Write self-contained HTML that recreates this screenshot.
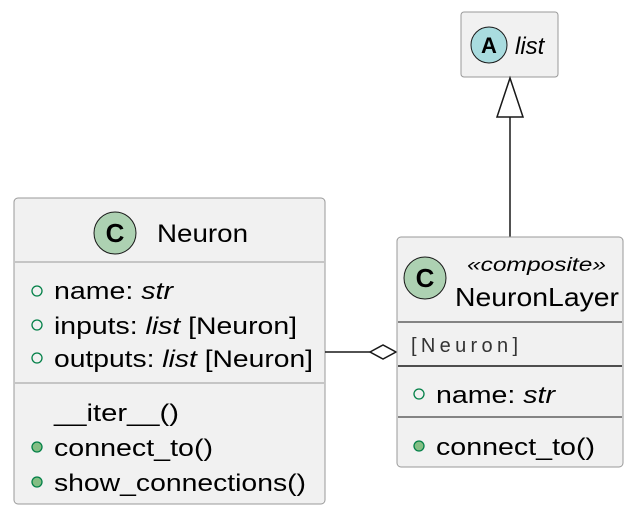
<!DOCTYPE html>
<html><head><style>body{margin:0;background:#fff}svg{display:block}text{font-family:"Liberation Sans",sans-serif;fill:#000}</style></head><body>
<svg width="638" height="518" viewBox="0 0 638 518" xmlns="http://www.w3.org/2000/svg">
<!-- list -->
<rect x="461" y="12" width="97" height="65" rx="3" fill="#F1F1F1" stroke="#999" stroke-width="1"/>
<circle cx="489" cy="45" r="18" fill="#A9DCDF" stroke="#181818" stroke-width="1"/>
<text x="489" y="53" font-size="22" font-weight="bold" text-anchor="middle" font-family="Liberation Mono, monospace">A</text>
<text x="515" y="54" font-size="24" font-style="italic">list</text>
<!-- inheritance -->
<line x1="510" y1="117" x2="510" y2="237" stroke="#181818" stroke-width="1.5"/>
<polygon points="510,78 497,117 523,117" fill="#fff" stroke="#181818" stroke-width="1.5"/>
<!-- Neuron -->
<rect x="14" y="198" width="311" height="306" rx="4" fill="#F1F1F1" stroke="#999" stroke-width="1"/>
<circle cx="115" cy="233" r="21" fill="#ADD1B2" stroke="#181818" stroke-width="1"/>
<text x="115" y="242" font-size="26" font-weight="bold" text-anchor="middle">C</text>
<text x="157" y="242" font-size="25" textLength="91" lengthAdjust="spacingAndGlyphs">Neuron</text>
<line x1="15" y1="262" x2="324" y2="262" stroke="#999"/>
<circle cx="37" cy="291" r="5" fill="none" stroke="#038048" stroke-width="1.3"/>
<text x="54" y="299" font-size="24" textLength="119" lengthAdjust="spacingAndGlyphs">name: <tspan font-style="italic">str</tspan></text>
<circle cx="37" cy="325" r="5" fill="none" stroke="#038048" stroke-width="1.3"/>
<text x="54" y="334" font-size="24" textLength="243" lengthAdjust="spacingAndGlyphs">inputs: <tspan font-style="italic">list</tspan> [Neuron]</text>
<circle cx="37" cy="358" r="5" fill="none" stroke="#038048" stroke-width="1.3"/>
<text x="54" y="367" font-size="24" textLength="259" lengthAdjust="spacingAndGlyphs">outputs: <tspan font-style="italic">list</tspan> [Neuron]</text>
<line x1="15" y1="383" x2="324" y2="383" stroke="#999"/>
<text x="54" y="421" font-size="24" textLength="125" lengthAdjust="spacingAndGlyphs">__iter__()</text>
<circle cx="37" cy="447" r="5" fill="#84BE84" stroke="#038048" stroke-width="1.3"/>
<text x="54" y="456" font-size="24" textLength="159" lengthAdjust="spacingAndGlyphs">connect_to()</text>
<circle cx="37" cy="482" r="5" fill="#84BE84" stroke="#038048" stroke-width="1.3"/>
<text x="54" y="491" font-size="24" textLength="252" lengthAdjust="spacingAndGlyphs">show_connections()</text>
<!-- aggregation -->
<line x1="325" y1="352" x2="370" y2="352" stroke="#181818" stroke-width="1.5"/>
<polygon points="370,352 383,345 396,352 383,359" fill="#fff" stroke="#181818" stroke-width="1.5"/>
<!-- NeuronLayer -->
<rect x="397" y="237" width="226" height="230" rx="4" fill="#F1F1F1" stroke="#999" stroke-width="1"/>
<circle cx="425" cy="278" r="21" fill="#ADD1B2" stroke="#181818" stroke-width="1"/>
<text x="425" y="287" font-size="26" font-weight="bold" text-anchor="middle">C</text>
<text x="467" y="271" font-size="19" font-style="italic" textLength="139" lengthAdjust="spacingAndGlyphs">«composite»</text>
<text x="455" y="306" font-size="26" textLength="164" lengthAdjust="spacingAndGlyphs">NeuronLayer</text>
<line x1="398" y1="322" x2="622" y2="322" stroke="#181818" stroke-width="1"/>
<text x="411" y="352" font-size="20" style="fill:#333" font-family="Liberation Mono, monospace" textLength="107" lengthAdjust="spacing">[Neuron]</text>
<line x1="398" y1="366" x2="622" y2="366" stroke="#181818" stroke-width="1.5"/>
<circle cx="419" cy="394" r="5" fill="none" stroke="#038048" stroke-width="1.3"/>
<text x="436" y="403" font-size="24" textLength="119" lengthAdjust="spacingAndGlyphs">name: <tspan font-style="italic">str</tspan></text>
<line x1="398" y1="417" x2="622" y2="417" stroke="#181818" stroke-width="1"/>
<circle cx="419" cy="446" r="5" fill="#84BE84" stroke="#038048" stroke-width="1.3"/>
<text x="436" y="455" font-size="24" textLength="159" lengthAdjust="spacingAndGlyphs">connect_to()</text>
</svg>
</body></html>
